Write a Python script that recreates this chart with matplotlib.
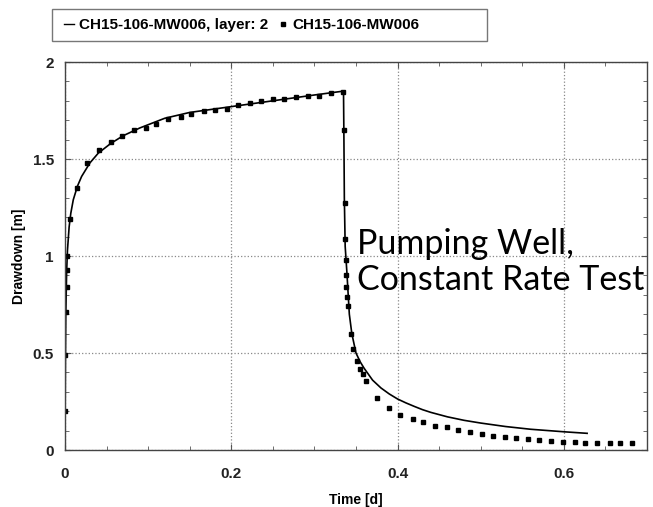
import matplotlib.pyplot as plt
from matplotlib.ticker import MultipleLocator, FuncFormatter
from matplotlib.lines import Line2D
from matplotlib.patches import Rectangle

plt.rcParams['font.family'] = ['Liberation Sans', 'DejaVu Sans']

# observed drawdown (points)
obs_t = [0.0, 0.0003, 0.0012, 0.0022, 0.0026, 0.0029,
         0.006, 0.0144, 0.027, 0.041, 0.055, 0.069, 0.083, 0.097, 0.110, 0.124,
         0.139, 0.152, 0.167, 0.180, 0.195, 0.208, 0.222, 0.236, 0.250, 0.264,
         0.278, 0.292, 0.306, 0.320, 0.334,
         0.336, 0.3365, 0.337, 0.3375, 0.338, 0.3385, 0.339, 0.340,
         0.344, 0.347, 0.351, 0.355, 0.358, 0.362, 0.375, 0.390,
         0.403, 0.418, 0.431, 0.445, 0.459, 0.473, 0.487, 0.501, 0.515, 0.529,
         0.543, 0.557, 0.570, 0.584, 0.599, 0.613, 0.626, 0.640, 0.655, 0.668, 0.682]
obs_s = [0.20, 0.49, 0.71, 0.84, 0.93, 1.00,
         1.19, 1.35, 1.48, 1.545, 1.59, 1.62, 1.65, 1.66, 1.68, 1.705,
         1.715, 1.73, 1.745, 1.755, 1.757, 1.777, 1.788, 1.80, 1.81, 1.81,
         1.82, 1.826, 1.823, 1.84, 1.845,
         1.65, 1.275, 1.09, 0.98, 0.90, 0.84, 0.79, 0.74,
         0.60, 0.52, 0.46, 0.42, 0.39, 0.357, 0.27, 0.216,
         0.18, 0.16, 0.145, 0.126, 0.117, 0.103, 0.095, 0.084, 0.074, 0.066,
         0.060, 0.055, 0.050, 0.047, 0.043, 0.040, 0.038, 0.036, 0.036, 0.036, 0.038]

# simulated drawdown (line)
sim_t = [0.0, 0.0005, 0.001, 0.002, 0.003, 0.005, 0.007, 0.01, 0.015, 0.02,
         0.03, 0.04, 0.055, 0.07, 0.09, 0.12, 0.15, 0.2, 0.25, 0.3, 0.335,
         0.3355, 0.336, 0.337, 0.339, 0.342, 0.345, 0.35, 0.355, 0.36, 0.365,
         0.37, 0.38, 0.39, 0.40, 0.41, 0.42, 0.43, 0.44, 0.46, 0.48, 0.50,
         0.53, 0.56, 0.60, 0.628]
sim_s = [0.0, 0.45, 0.70, 0.92, 1.03, 1.15, 1.22, 1.29, 1.36, 1.41,
         1.48, 1.53, 1.58, 1.62, 1.66, 1.71, 1.74, 1.77, 1.80, 1.83, 1.85,
         1.6, 1.3, 1.05, 0.92, 0.70, 0.60, 0.50, 0.455, 0.42, 0.39,
         0.36, 0.32, 0.289, 0.263, 0.243, 0.225, 0.208, 0.194, 0.171, 0.153, 0.139,
         0.121, 0.107, 0.094, 0.086]

label_sim = 'CH15-106-MW006, layer: 2'
label_obs = 'CH15-106-MW006'

W, H = 653, 507
fig = plt.figure(figsize=(W / 100, H / 100), dpi=100)
ax = fig.add_axes([0.0995, 0.1124, 0.8913, 0.7653])

ax.plot(sim_t, sim_s, color='black', lw=1.2)
ax.plot(obs_t, obs_s, ls='none', marker='s', ms=3, color='black')

ax.set_xlim(0, 0.7)
ax.set_ylim(0, 2)
ax.xaxis.set_major_locator(MultipleLocator(0.2))
ax.xaxis.set_minor_locator(MultipleLocator(0.05))
ax.yaxis.set_major_locator(MultipleLocator(0.5))
ax.yaxis.set_minor_locator(MultipleLocator(0.1))
fmt = FuncFormatter(lambda v, p: '%g' % round(v, 3))
ax.xaxis.set_major_formatter(fmt)
ax.yaxis.set_major_formatter(fmt)
ax.tick_params(which='both', direction='in', top=True, right=True, color='#555555')
ax.tick_params(which='major', length=4)
ax.tick_params(which='minor', length=3)
ax.tick_params(axis='x', pad=12)
ax.tick_params(axis='y', pad=8)
for lab in ax.get_xticklabels() + ax.get_yticklabels():
    lab.set_fontweight('bold')
    lab.set_fontsize(11)
    lab.set_color('#222222')
ax.grid(True, which='major', ls=':', color='#888888', lw=0.9)
for s in ax.spines.values():
    s.set_color('#444444')
    s.set_linewidth(1.0)

ax.set_xlabel('Time [d]', fontweight='bold', fontsize=10, labelpad=9)
ax.set_ylabel('Drawdown [m]', fontweight='bold', fontsize=10, labelpad=5)

ax.text(0.351, 0.97, 'Pumping Well,\nConstant Rate Test', fontsize=24.5,
        family='Lato', va='center', ha='left', linespacing=1.15)

# legend box above the plot (frame drawn separately, wider than the text)
fig.patches.append(Rectangle((52 / W, 1 - 41 / H), 435 / W, 32 / H,
                             transform=fig.transFigure, fill=False,
                             edgecolor='#777777', lw=1.0))
handles = [Line2D([], [], color='black', lw=1.0),
           Line2D([], [], ls='none', marker='s', ms=2.5, color='black')]
fig.legend(handles, [label_sim, label_obs], loc='center left',
           bbox_to_anchor=(56 / W, 1 - 25 / H), ncol=2, frameon=False,
           handlelength=0.7, handletextpad=0.3, columnspacing=0.6,
           borderpad=0.0, prop={'weight': 'bold', 'size': 11})

fig.savefig('out.png', dpi=100)
